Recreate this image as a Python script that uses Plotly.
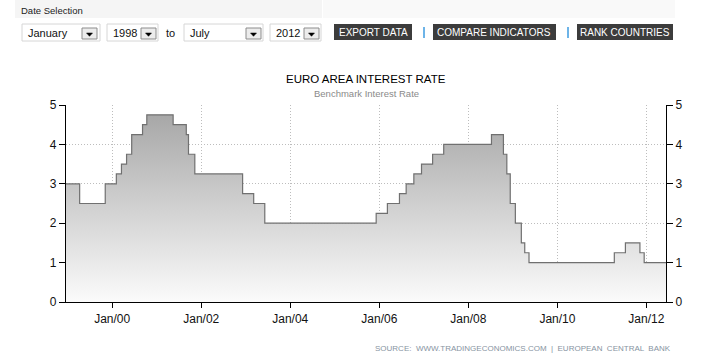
import plotly.graph_objects as go

# ---------------- data (ECB main refinancing rate, change dates) ----------------
change_dates = ['1998-12-18', '1999-04-09', '1999-11-05', '2000-02-04', '2000-03-17',
                '2000-04-28', '2000-06-09', '2000-09-06', '2000-10-11', '2001-05-15',
                '2001-08-31', '2001-09-18', '2001-11-09', '2002-12-06', '2003-03-07',
                '2003-06-06', '2005-12-06', '2006-03-08', '2006-06-15', '2006-08-09',
                '2006-10-11', '2006-12-13', '2007-03-14', '2007-06-13', '2008-07-09',
                '2008-10-15', '2008-11-12', '2008-12-10', '2009-01-21', '2009-03-11',
                '2009-04-08', '2009-05-13', '2011-04-13', '2011-07-13', '2011-11-09',
                '2011-12-14', '2012-06-10']
rates = [3.0, 2.5, 3.0, 3.25, 3.5,
         3.75, 4.25, 4.5, 4.75, 4.5,
         4.25, 3.75, 3.25, 2.75, 2.5,
         2.0, 2.25, 2.5, 2.75, 3.0,
         3.25, 3.5, 3.75, 4.0, 4.25,
         3.75, 3.25, 2.5, 2.0, 1.5,
         1.25, 1.0, 1.25, 1.5, 1.25,
         1.0, 1.0]
y_ticks = [0, 1, 2, 3, 4, 5]

title_text = "EURO AREA INTEREST RATE"
subtitle_text = "Benchmark Interest Rate"
source_text = "SOURCE:  WWW.TRADINGECONOMICS.COM  |  EUROPEAN  CENTRAL  BANK"
months_sel = ["January", "July"]
years_sel = ["1998", "2012"]
buttons = ["EXPORT DATA", "COMPARE INDICATORS", "RANK COUNTRIES"]

# ---------------- geometry ----------------
W, H = 707, 364
L, R, T, B = 66, 666, 105, 302   # plot area in pixels
FONT = "Liberation Sans, Arial, sans-serif"


def px(x):
    return (x - L) / (R - L)


def py(y):
    return (B - y) / (B - T)


fig = go.Figure()

fig.add_trace(go.Scatter(
    x=change_dates, y=rates, mode='lines', line_shape='hv',
    line=dict(color='#707070', width=1.2),
    fill='tozeroy',
    fillgradient=dict(type='vertical', start=0, stop=5,
                      colorscale=[[0, 'rgb(251,251,251)'], [1, 'rgb(163,163,163)']]),
    hoverinfo='skip', showlegend=False,
))
# invisible trace to activate the right-hand axis
fig.add_trace(go.Scatter(x=[change_dates[0]], y=[rates[0]], yaxis='y2', mode='markers',
                         marker=dict(opacity=0), hoverinfo='skip', showlegend=False))

axis_common = dict(
    ticks='outside', tickcolor='black', tickwidth=1,
    showline=True, linecolor='black', linewidth=1.3,
    zeroline=False,
    tickfont=dict(family=FONT, size=12, color='#111'),
)
grid = dict(showgrid=True, gridcolor='#bdbdbd', griddash='1px,2px', gridwidth=1)

fig.update_layout(
    width=W, height=H,
    margin=dict(l=L, r=W - R, t=T, b=H - B, pad=0),
    paper_bgcolor='white', plot_bgcolor='white',
    xaxis=dict(type='date', range=['1998-12-18', '2012-06-10'],
               tick0='2000-01-01', dtick='M24', tickformat='%b/%y', ticklen=5,
               **grid, **axis_common),
    yaxis=dict(range=[0, 5], tickvals=y_ticks, ticklen=6, **grid, **axis_common),
    yaxis2=dict(range=[0, 5], tickvals=y_ticks, ticklen=6, overlaying='y', side='right',
                showgrid=False, **axis_common),
)

shapes = []
annots = []


def rect(x0, y0, x1, y1, fill, line=None, lw=0):
    shapes.append(dict(type='rect', xref='paper', yref='paper',
                       x0=px(x0), x1=px(x1), y0=py(y1), y1=py(y0),
                       fillcolor=fill, line=dict(color=line or fill, width=lw), layer='above'))


def text(x, y, s, size, color, xanchor='left', family=FONT):
    annots.append(dict(xref='paper', yref='paper', x=px(x), y=py(y), text=s,
                       showarrow=False, xanchor=xanchor, yanchor='middle',
                       font=dict(family=family, size=size, color=color)))


# top band
rect(15, 0, 322, 18, '#f5f5f5')
rect(323, 0, 675, 18, '#f9f9f9')
text(19, 10, "Date Selection", 9.5, '#222')

# dropdowns: (x0, x1, text, arrow-x0)
dd = [(22, 100, months_sel[0], 82), (107, 158, years_sel[0], 141),
      (184, 263, months_sel[1], 246), (270, 321, years_sel[1], 304)]
for x0, x1, s, ax in dd:
    rect(x0, 24, x1, 41, 'white', '#d6d6d6', 1)
    rect(ax, 28, ax + 15, 39, '#ececec', '#8c8c8c', 1)
    cx, cy = ax + 7.5, 34.5
    shapes.append(dict(type='path', xref='paper', yref='paper', layer='above',
                       path=f"M {px(cx-3)} {py(cy-1.5)} L {px(cx+3)} {py(cy-1.5)} L {px(cx)} {py(cy+1.8)} Z",
                       fillcolor='black', line=dict(color='black', width=0.5)))
    text(x0 + 4, 33, s, 11, '#111')
text(170, 33, "to", 11, '#111', xanchor='center')

# buttons
btns = [(334, 412, buttons[0]), (433, 556, buttons[1]), (577, 673, buttons[2])]
for x0, x1, s in btns:
    rect(x0, 24, x1, 40, '#3c3c3c')
    text((x0 + x1) / 2, 32.5, s, 10, 'white', xanchor='center')
for sx in (424, 568):
    shapes.append(dict(type='line', xref='paper', yref='paper', layer='above',
                       x0=px(sx), x1=px(sx), y0=py(38), y1=py(27),
                       line=dict(color='#3d9be0', width=1.5)))

# titles
text((L + R) / 2, 79, title_text, 11.5, '#000', xanchor='center')
text((L + R) / 2, 93, subtitle_text, 9.5, '#8a8a8a', xanchor='center')
# source
text(673, 348, source_text, 8, '#8794a2', xanchor='right')

fig.update_layout(shapes=shapes, annotations=annots)
fig.write_html("out.html", config={'displayModeBar': False},
               post_script="document.body.style.margin='0';document.body.style.padding='0';")
